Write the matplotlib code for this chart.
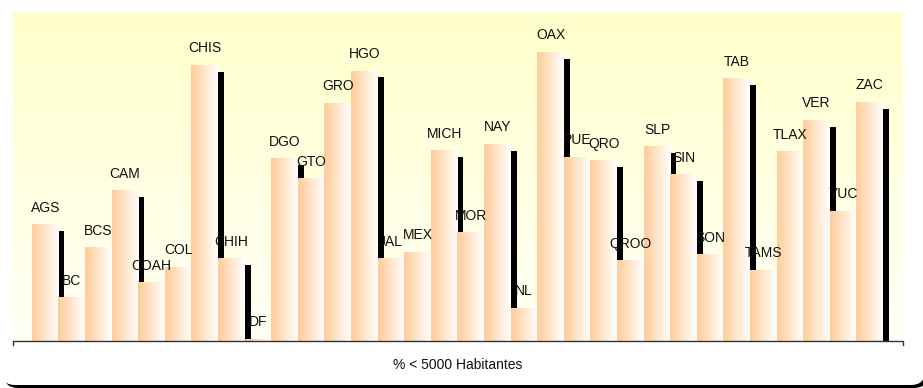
import numpy as np
import matplotlib.pyplot as plt
from matplotlib.patches import FancyBboxPatch
from matplotlib.transforms import ScaledTranslation
from matplotlib.colors import LinearSegmentedColormap

plt.rcParams['font.family'] = ['Liberation Sans', 'DejaVu Sans']

estados = ['AGS', 'BC', 'BCS', 'CAM', 'COAH', 'COL', 'CHIS', 'CHIH', 'DF', 'DGO',
           'GTO', 'GRO', 'HGO', 'JAL', 'MEX', 'MICH', 'MOR', 'NAY', 'NL', 'OAX',
           'PUE', 'QRO', 'QROO', 'SLP', 'SIN', 'SON', 'TAB', 'TAMS', 'TLAX', 'VER',
           'YUC', 'ZAC']
porcentaje = [25.8, 9.6, 20.7, 33.3, 12.9, 16.4, 61.1, 18.2, 0.4, 40.4,
              36.0, 52.7, 59.8, 18.2, 19.6, 42.2, 24.0, 43.6, 7.3, 64.0,
              40.7, 40.0, 17.8, 43.1, 36.9, 19.1, 58.2, 15.6, 42.0, 48.9,
              28.7, 52.9]
titulo_x = '% < 5000 Habitantes'

fig = plt.figure(figsize=(9.23, 3.88), dpi=100)

# marco redondeado con sombra
sombra = FancyBboxPatch((0.04, 0.0), 9.24, 4.5, boxstyle='round,pad=0,rounding_size=0.14',
                        transform=fig.dpi_scale_trans, facecolor='black', edgecolor='none', zorder=-2)
marco = FancyBboxPatch((0.01, 0.03), 9.24, 4.5, boxstyle='round,pad=0,rounding_size=0.14',
                       transform=fig.dpi_scale_trans, facecolor='white', edgecolor='none', zorder=-1)
fig.patches.extend([sombra, marco])

ax = fig.add_axes([13 / 923, 47 / 388, 890 / 923, 329 / 388])
ax.patch.set_alpha(0)

# fondo degradado amarillo
fondo = LinearSegmentedColormap.from_list('fondo', ['#FFFFF6', '#FFFFCC'])
ax.imshow(np.linspace(0, 1, 256).reshape(-1, 1), cmap=fondo, origin='lower',
          extent=[0, 1, 0, 1], transform=ax.transAxes, aspect='auto', zorder=0)

x = np.arange(len(estados))

# sombras negras desplazadas
desp = ScaledTranslation(0.06, -0.06, fig.dpi_scale_trans)
ax.bar(x, porcentaje, width=1.0, color='black', transform=ax.transData + desp, zorder=1)

# barras con degradado horizontal
barra = LinearSegmentedColormap.from_list('barra', ['#FFCC99', '#FFFFFF'])
grad = np.linspace(0, 1, 128).reshape(1, -1)
for i, v in zip(x, porcentaje):
    ax.imshow(grad, cmap=barra, extent=[i - 0.5, i + 0.5, 0, v], aspect='auto', zorder=2)
    ax.annotate(estados[i], (i, v), xytext=(0, 9.5), textcoords='offset points',
                ha='center', va='baseline', fontsize=10, color='#111111', zorder=3)

ax.set_xlim(-1.21, 32.25)
ax.set_ylim(0, 73)
ax.set_aspect('auto')
for s in ax.spines.values():
    s.set_visible(False)
ax.set_xticks([])
ax.set_yticks([])

# linea base con pequeñas marcas en los extremos
ax.plot([0, 0, 1, 1], [-0.012, 0, 0, -0.012], transform=ax.transAxes, color='#333333',
        lw=1.0, clip_on=False, zorder=4)

ax.set_xlabel(titulo_x, fontsize=10, labelpad=12, color='#111111')

fig.savefig('out.png', dpi=100)
